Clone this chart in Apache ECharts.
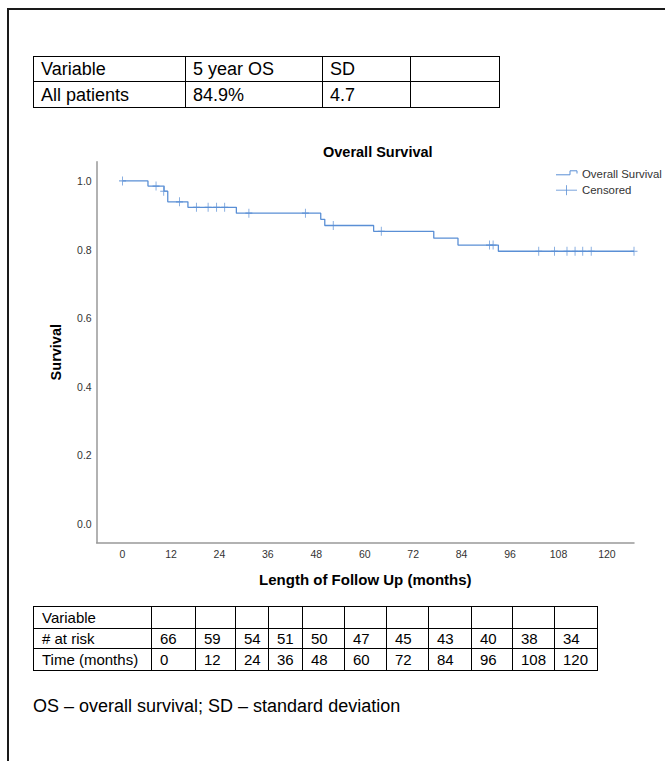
<!DOCTYPE html>
<html><head><meta charset="utf-8">
<script src="https://cdn.jsdelivr.net/npm/echarts@6/dist/echarts.min.js"></script>
<style>
html,body{margin:0;padding:0;background:#fff;}
#page{position:relative;width:665px;height:761px;overflow:hidden;font-family:'Liberation Sans',Arial,sans-serif;color:#000;}
#chart{position:absolute;left:0;top:0;width:665px;height:761px;}
.cell{position:absolute;box-sizing:border-box;border:1px solid #000;display:flex;align-items:center;white-space:nowrap;overflow:hidden;line-height:1;}
.rule{position:absolute;background:#1a1a1a;}
#foot{position:absolute;left:33px;top:696px;font-size:18px;line-height:20px;white-space:nowrap;}
</style></head><body>
<div id="page">
  <div id="chart"></div>
  <div class="rule" style="left:7px;top:8px;width:658px;height:2px;"></div>
  <div class="rule" style="left:7px;top:8px;width:2px;height:753px;"></div>
  <div id="foot"></div>
</div>
<script>
// ---- data ----
const chartTitle = 'Overall Survival';
const xAxisTitle = 'Length of Follow Up (months)';
const yAxisTitle = 'Survival';
const seriesNames = ['Overall Survival', 'Censored'];
const xTickValues = [0, 12, 24, 36, 48, 60, 72, 84, 96, 108, 120];
const yTickValues = [0, 0.2, 0.4, 0.6, 0.8, 1.0];
const stepTimes = [0, 6.3, 10.3, 11.2, 16.2, 28.2, 49.1, 50.1, 62.2, 77.1, 83.1, 93.1, 126.7];
const stepSurvival = [1.0, 0.985, 0.970, 0.939, 0.923, 0.906, 0.888, 0.870, 0.853, 0.833, 0.813, 0.795, 0.795];
const censorTimes = [0, 8.3, 10.2, 14.1, 18.3, 21.2, 23.3, 25.3, 31.3, 45.3, 52.2, 64.1, 90.9, 91.8, 103.1, 107.0, 110.1, 112.1, 114.0, 116.1, 126.7];
const censorSurvival = [1.0, 0.985, 0.970, 0.939, 0.923, 0.923, 0.923, 0.923, 0.906, 0.906, 0.870, 0.853, 0.813, 0.813, 0.795, 0.795, 0.795, 0.795, 0.795, 0.795, 0.795];
const summaryHeader = ['Variable', '5 year OS', 'SD', ''];
const summaryRow = ['All patients', '84.9%', '4.7', ''];
const riskRowLabels = ['Variable', '# at risk', 'Time (months)'];
const riskTimes = [0, 12, 24, 36, 48, 60, 72, 84, 96, 108, 120];
const atRisk = [66, 59, 54, 51, 50, 47, 45, 43, 40, 38, 34];
const footnote = 'OS – overall survival; SD – standard deviation';

// ---- tables (HTML) ----
const page = document.getElementById('page');
function buildTable(colEdges, rowEdges, rows, fontSize, pad) {
  for (let i = 0; i < rows.length; i++) {
    for (let j = 0; j < rows[i].length; j++) {
      const d = document.createElement('div');
      d.className = 'cell';
      d.style.left = colEdges[j] + 'px';
      d.style.top = rowEdges[i] + 'px';
      d.style.width = (colEdges[j + 1] - colEdges[j] + 1) + 'px';
      d.style.height = (rowEdges[i + 1] - rowEdges[i] + 1) + 'px';
      d.style.fontSize = fontSize + 'px';
      d.style.paddingLeft = pad + 'px';
      d.textContent = String(rows[i][j]);
      page.appendChild(d);
    }
  }
}
buildTable([33, 185, 322, 410, 499], [56, 81, 107], [summaryHeader, summaryRow], 18, 7);
buildTable([33, 151, 195, 235, 268, 302, 344, 386, 428, 471, 512, 554, 597], [606, 628, 648, 670],
  [[riskRowLabels[0]].concat(riskTimes.map(() => '')),
   [riskRowLabels[1]].concat(atRisk),
   [riskRowLabels[2]].concat(riskTimes)], 15, 8);
document.getElementById('foot').textContent = footnote;

// ---- chart ----
const C = '#5a8fd5';
const FONT = "'Liberation Sans', Arial, sans-serif";
const chart = echarts.init(document.getElementById('chart'), null, { renderer: 'svg' });
chart.setOption({
  animation: false,
  title: {
    text: chartTitle, left: 323, top: 144, padding: 0,
    textStyle: { fontFamily: FONT, fontSize: 14.5, fontWeight: 'bold', color: '#000' }
  },
  legend: {
    orient: 'vertical', left: 553.5, top: 166.3, itemWidth: 21, itemHeight: 10, itemGap: 1.4,
    padding: 0, selectedMode: false,
    textStyle: { fontFamily: FONT, fontSize: 11.4, color: '#333', lineHeight: 12 },
    data: [
      { name: seriesNames[0], icon: 'path://M0,0 M21,10 M0,6 L14,6 L14,2 L21,2 L21,4.7',
        itemStyle: { color: 'none', borderColor: C, borderWidth: 1 } },
      { name: seriesNames[1], icon: 'path://M0,0 M21,10 M0,5 L21,5 M10.5,0 L10.5,10',
        itemStyle: { color: 'none', borderColor: C, borderWidth: 1 } }
    ]
  },
  grid: { left: 96.7, right: 31, top: 161.7, bottom: 218.3, containLabel: false },
  xAxis: {
    type: 'value', min: -6.4, max: 126.7,
    name: xAxisTitle, nameLocation: 'middle', nameGap: 29,
    nameTextStyle: { fontFamily: FONT, fontSize: 15, fontWeight: 'bold', color: '#000' },
    axisLine: { show: true, onZero: false, lineStyle: { color: '#999', width: 1.5 } },
    axisTick: { show: false }, splitLine: { show: false },
    axisLabel: { customValues: xTickValues, margin: 6, fontFamily: FONT, fontSize: 10.5, color: '#333' }
  },
  yAxis: {
    type: 'value', min: -0.0545, max: 1.056,
    name: yAxisTitle, nameLocation: 'middle', nameGap: 33,
    nameTextStyle: { fontFamily: FONT, fontSize: 14.5, fontWeight: 'bold', color: '#000' },
    axisLine: { show: true, onZero: false, lineStyle: { color: '#999', width: 1.5 } },
    axisTick: { show: false }, splitLine: { show: false },
    axisLabel: { customValues: yTickValues, formatter: v => v.toFixed(1), margin: 5, fontFamily: FONT, fontSize: 10.5, color: '#333' }
  },
  series: [
    {
      name: seriesNames[0], type: 'line', step: 'end', symbol: 'none', showSymbol: false, silent: true,
      data: stepTimes.map((t, i) => [t, stepSurvival[i]]),
      lineStyle: { color: C, width: 1.3 }, itemStyle: { color: C }
    },
    {
      name: seriesNames[1], type: 'scatter', silent: true,
      symbol: 'path://M0,0 L0,9 M-3.5,4.5 L3.5,4.5', symbolSize: [7, 9],
      data: censorTimes.map((t, i) => [t, censorSurvival[i]]),
      itemStyle: { color: 'none', borderColor: C, borderWidth: 1 }
    }
  ]
});
</script>
</body></html>
